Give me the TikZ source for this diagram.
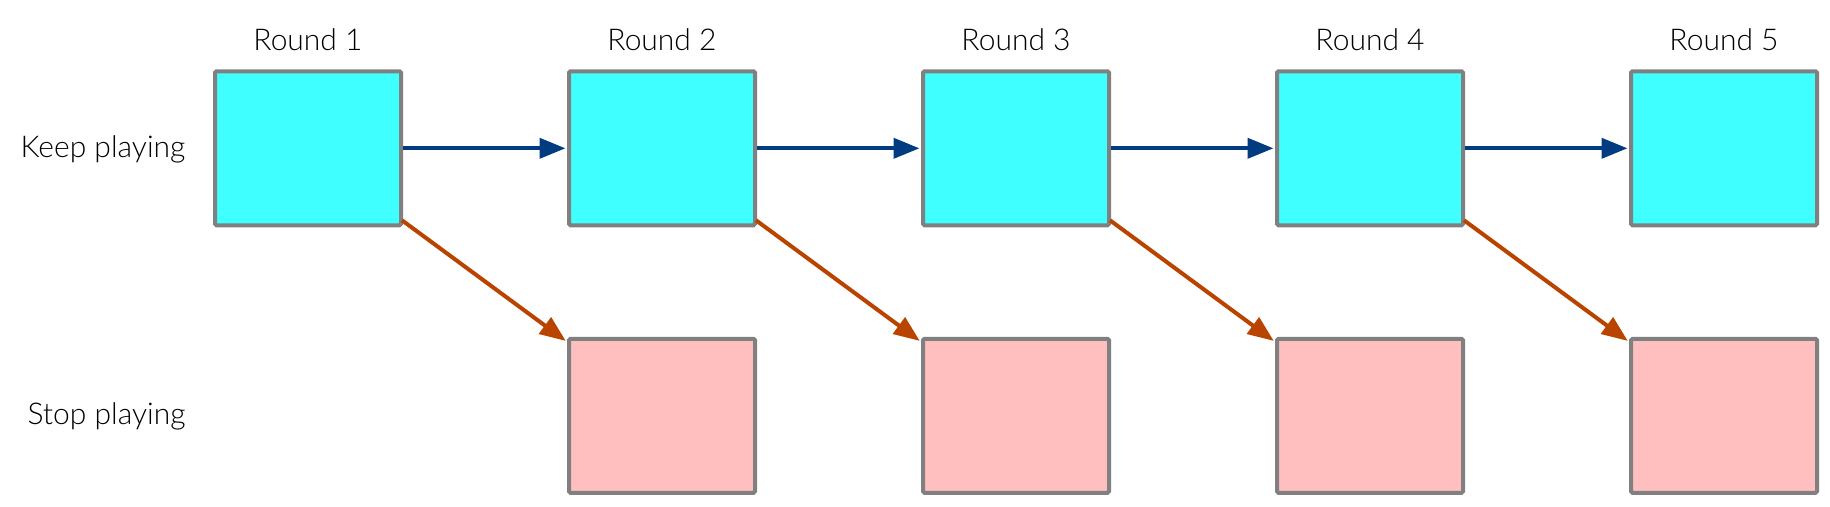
\documentclass[tikz,border=0pt]{standalone}
\usepackage{fontspec}
\setmainfont{Lato}[UprightFont=* Light]
\usetikzlibrary{arrows.meta}
\definecolor{keepfill}{HTML}{40FFFF}
\definecolor{stopfill}{HTML}{FFBFBF}
\definecolor{boxline}{HTML}{808080}
\definecolor{keeparrow}{HTML}{003C7F}
\definecolor{stoparrow}{HTML}{B84400}
\tikzset{
  roundbox/.style={rectangle, draw=boxline, line width=4pt, rounded corners=1.5pt,
    minimum width=186pt, minimum height=154pt, inner sep=0pt},
  keepbox/.style={roundbox, fill=keepfill},
  stopbox/.style={roundbox, fill=stopfill},
  lbl/.style={font=\fontsize{30}{36}\selectfont, inner sep=0pt},
  keeparr/.style={draw=keeparrow, line width=4pt, -{Triangle[length=26pt,width=20pt]}, shorten >=1.5pt},
  stoparr/.style={draw=stoparrow, line width=4pt, -{Triangle[length=26pt,width=20pt]}, shorten >=1.5pt}
}
\begin{document}
\begin{tikzpicture}[x=1pt,y=-1pt]
\useasboundingbox (0,0) rectangle (1830,506);
\foreach \i/\x in {1/308,2/662,3/1016,4/1370,5/1724} {
  \node[keepbox] (k\i) at (\x,148.3) {};
  \node[lbl] (r\i) at (\x,40) {Round \i};
}
\foreach \i/\x in {2/662,3/1016,4/1370,5/1724} {
  \node[stopbox] (s\i) at (\x,415.8) {};
}
\node[lbl] (keep) at (103,149.5) {Keep playing};
\node[lbl] (stop) at (106.5,416.7) {Stop playing};
\foreach \a/\b in {1/2,2/3,3/4,4/5} {
  \draw[keeparr] (k\a.east) -- (k\b.west);
  \draw[stoparr] ([xshift=-1pt,yshift=7pt]k\a.south east) -- ([yshift=-5pt]s\b.north west);
}
\end{tikzpicture}
\end{document}
